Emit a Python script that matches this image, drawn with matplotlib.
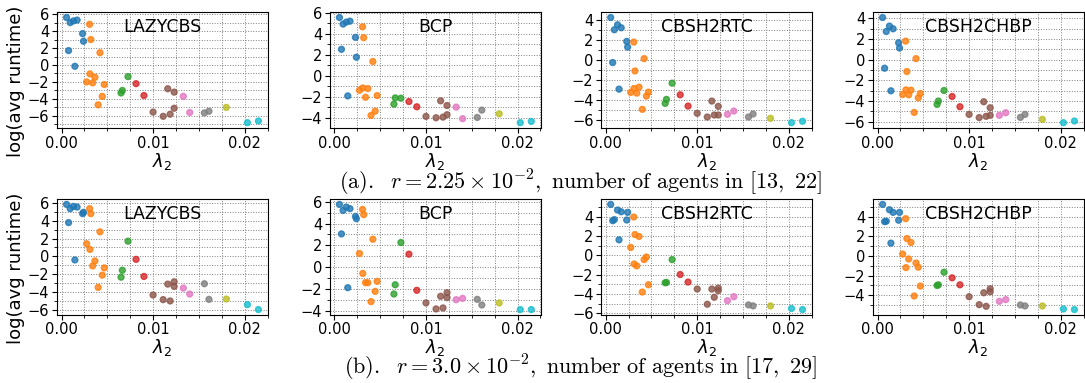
import matplotlib
matplotlib.use('Agg')
import matplotlib.pyplot as plt
from matplotlib.ticker import MultipleLocator

# lambda_2 of each instance (shared by all panels)
lam2 = [0.00055, 0.00095, 0.0013, 0.0017, 0.0023, 0.0024, 0.00077, 0.00146,
        0.00307, 0.0032, 0.0042, 0.0031, 0.00365, 0.00274, 0.0034, 0.00467, 0.00445, 0.0040,
        0.00726, 0.00664, 0.0065,
        0.00814, 0.0090,
        0.0116, 0.0123, 0.0100, 0.0111, 0.01186, 0.0123,
        0.0133, 0.0140,
        0.0156, 0.0161,
        0.0180,
        0.0203, 0.0215]
group = [0]*8 + [1]*10 + [2]*3 + [3]*2 + [5]*6 + [6]*2 + [7]*2 + [8] + [9]*2

solvers = ['LAZYCBS', 'BCP', 'CBSH2RTC', 'CBSH2CHBP']

# row (a): r = 2.25e-2
lazycbs_a = [5.6, 5.0, 5.2, 5.3, 3.7, 2.8, 1.7, -0.15,
             4.8, 3.0, 1.45, -1.05, -1.45, -2.0, -2.1, -2.3, -3.7, -4.7,
             -1.37, -3.0, -3.3,
             -2.2, -3.6,
             -2.8, -3.2, -5.55, -6.05, -5.8, -5.1,
             -3.7, -5.6,
             -5.65, -5.45,
             -5.0,
             -6.8, -6.6]
bcp_a = [5.57, 4.94, 5.13, 5.22, 3.67, 1.77, 2.53, -1.93,
         4.68, 3.64, 1.36, -1.17, -1.23, -1.39, -2.06, -1.9, -3.39, -3.8,
         -2.15, -2.12, -2.72,
         -2.47, -2.97,
         -2.4, -2.85, -3.89, -4.02, -3.96, -3.73,
         -3.0, -4.11,
         -3.99, -3.29,
         -3.64,
         -4.49, -4.37]
rtc_a = [4.3, 3.07, 3.57, 3.27, 1.9, 1.33, -0.23, -2.9,
         1.83, -1.07, 0.17, -2.83, -2.7, -3.23, -3.3, -3.2, -3.6, -4.93,
         -2.3, -3.93, -4.33,
         -3.47, -4.6,
         -4.1, -4.63, -5.33, -5.7, -5.5, -5.5,
         -5.43, -5.1,
         -5.7, -5.4,
         -5.83,
         -6.27, -6.13]
chbp_a = [4.07, 2.72, 3.24, 2.98, 1.63, 1.12, -0.83, -3.01,
          1.79, -1.15, 0.1, -2.92, -2.95, -3.37, -3.4, -3.27, -3.69, -5.1,
          -2.98, -4.0, -4.33,
          -3.56, -4.55,
          -4.07, -4.65, -5.29, -5.6, -5.48, -5.38,
          -5.38, -5.13,
          -5.58, -5.29,
          -5.77,
          -6.09, -5.93]

# row (b): r = 3.0e-2
lazycbs_b = [5.85, 5.37, 5.63, 5.55, 4.81, 4.96, 3.8, -0.41,
             5.37, 4.81, 2.76, 0.78, -0.52, 1.42, -1.08, -1.3, -2.12, -3.5,
             1.71, -1.57, -2.35,
             -0.34, -2.27,
             -3.13, -2.87, -4.36, -4.88, -5.03, -3.39,
             -3.58, -4.25,
             -3.09, -4.85,
             -4.81,
             -5.44, -6.0]
bcp_b = [5.76, 5.21, 5.52, 5.37, 4.66, 4.45, 3.05, -1.89,
         5.3, 4.82, 2.56, -0.58, -1.43, 1.25, -1.43, -1.31, -2.23, -3.17,
         2.26, -1.62, -2.47,
         1.19, -2.13,
         -2.68, -2.35, -3.29, -3.84, -3.75, -2.8,
         -2.99, -2.87,
         -2.96, -3.48,
         -3.29,
         -3.9, -3.9]
rtc_b = [5.26, 3.69, 4.68, 4.5, 3.65, 4.44, 3.58, 1.6,
         3.96, 2.15, -0.44, -0.89, 1.95, 0.82, -1.09, -3.04, -0.17, -3.79,
         -0.44, -2.8, -2.83,
         -1.98, -2.76,
         -3.48, -3.38, -3.48, -5.05, -4.33, -3.65,
         -4.68, -4.27,
         -5.12, -5.22,
         -5.22,
         -5.49, -5.6]
chbp_b = [5.25, 3.54, 4.71, 4.44, 3.64, 4.44, 3.5, 1.31,
          3.8, 1.78, -0.71, -1.18, 1.38, 0.2, -0.3, -3.06, -1.14, -4.07,
          -1.65, -2.93, -3.0,
          -2.22, -2.93,
          -3.74, -3.33, -4.14, -4.95, -5.12, -3.64,
          -4.61, -4.44,
          -4.98, -5.08,
          -5.08,
          -5.39, -5.45]

rows = [[lazycbs_a, bcp_a, rtc_a, chbp_a], [lazycbs_b, bcp_b, rtc_b, chbp_b]]
captions = [r'$\mathrm{(a).}\ \ r = 2.25 \times 10^{-2},\ \mathrm{number\ of\ agents\ in\ [13,\ 22]}$',
            r'$\mathrm{(b).}\ \ r = 3.0 \times 10^{-2},\ \mathrm{number\ of\ agents\ in\ [17,\ 29]}$']
caption_y = [0.522, 0.0]
caption_va = ['center', 'bottom']

colors = ['C%d' % g for g in group]

fig = plt.figure(figsize=(10.85, 3.83), dpi=100)
lefts = [0.0525, 0.304, 0.554, 0.8046]
bottoms = [0.666, 0.178]
for i, row in enumerate(rows):
    for j, vals in enumerate(row):
        ax = fig.add_axes([lefts[j], bottoms[i], 0.1945, 0.302])
        ax.scatter(lam2, vals, c=colors, s=18, alpha=0.8, zorder=3)
        ax.xaxis.set_major_locator(MultipleLocator(0.01))
        ax.xaxis.set_minor_locator(MultipleLocator(0.0025))
        ax.yaxis.set_major_locator(MultipleLocator(2))
        ax.yaxis.set_minor_locator(MultipleLocator(1))
        ax.grid(which='both', linestyle=':', color='gray', linewidth=0.7)
        ax.tick_params(labelsize=10.5, pad=2)
        ax.set_xlabel(r'$\lambda_2$', fontsize=13, labelpad=0)
        if j == 0:
            ax.set_ylabel('log(avg runtime)', fontsize=13)
            ax.yaxis.set_label_coords(-0.15, 0.4)
        ax.text(0.5, 0.87, solvers[j], transform=ax.transAxes, ha='center', va='center', fontsize=12.5)
    fig.text(0.535, caption_y[i], captions[i], ha='center', va=caption_va[i], fontsize=16, math_fontfamily='cm')

plt.savefig('out.png', dpi=100)
